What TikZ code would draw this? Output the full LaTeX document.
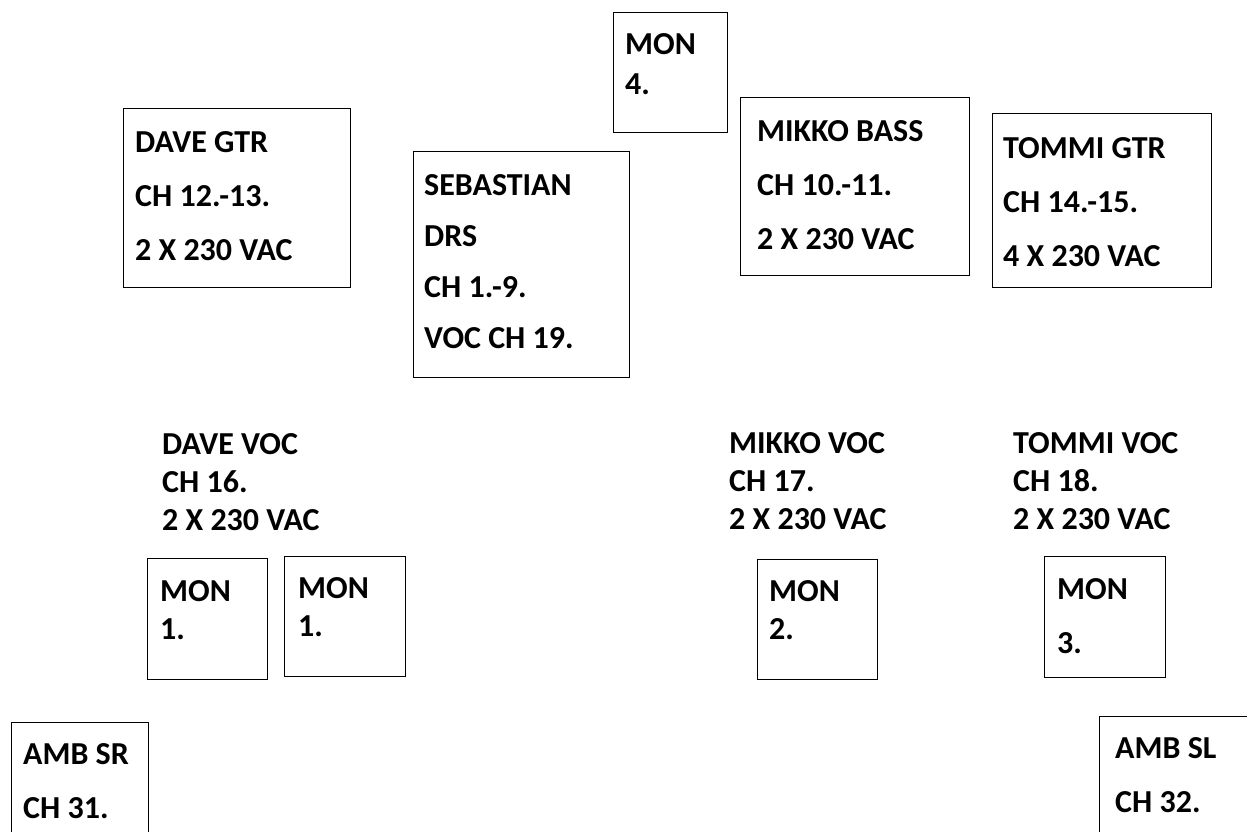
\documentclass[tikz,border=0pt]{standalone}
\usepackage{fontspec}
\setmainfont{Carlito}
\usetikzlibrary{positioning}

\begin{document}
\begin{tikzpicture}[x=1pt,y=-1pt]
\tikzstyle{every node}+=[inner sep=0pt]
\tikzstyle{box}=[draw, line width=1.3pt, anchor=north west]
\tikzstyle{txt}=[anchor=north west, align=left, font=\fontsize{32}{54}\selectfont\bfseries]
\tikzstyle{mon}=[txt, font=\fontsize{32}{38}\selectfont\bfseries]
\clip (0,0) rectangle (1247,832);
\fill [white] (0,0) rectangle (1247,832);
\node [box, minimum width=227pt, minimum height=179pt] (davegtr) at (123,108) {};
\node [txt, below right=23pt and 12pt of davegtr.north west] (davegtrtxt) {DAVE GTR\\CH 12.-13.\\2 X 230 VAC};
\node [box, minimum width=216pt, minimum height=226pt] (sebastian) at (413,151) {};
\node [txt, font=\fontsize{32}{51}\selectfont\bfseries, below right=23pt and 11pt of sebastian.north west] (sebastiantxt) {SEBASTIAN\\DRS\\CH 1.-9.\\VOC CH 19.};
\node [box, minimum width=114pt, minimum height=120pt] (mon4) at (613,12) {};
\node [mon, font=\fontsize{32}{40}\selectfont\bfseries, below right=21pt and 12pt of mon4.north west] (mon4txt) {MON\\4.};
\node [box, minimum width=229pt, minimum height=178pt] (mikkobass) at (740,97) {};
\node [txt, below right=23pt and 17pt of mikkobass.north west] (mikkobasstxt) {MIKKO BASS\\CH 10.-11.\\2 X 230 VAC};
\node [box, minimum width=219pt, minimum height=174pt] (tommigtr) at (992,113) {};
\node [txt, below right=24pt and 11pt of tommigtr.north west] (tommigtrtxt) {TOMMI GTR\\CH 14.-15.\\4 X 230 VAC};
\node [mon] (davevoc) at (162,433) {DAVE VOC\\CH 16.\\2 X 230 VAC};
\node [mon] (mikkovoc) at (729,432) {MIKKO VOC\\CH 17.\\2 X 230 VAC};
\node [mon] (tommivoc) at (1013,432) {TOMMI VOC\\CH 18.\\2 X 230 VAC};
\node [box, minimum width=120pt, minimum height=121pt] (mon1a) at (147,558) {};
\node [mon, below right=22pt and 13pt of mon1a.north west] (mon1atxt) {MON\\1.};
\node [box, minimum width=121pt, minimum height=120pt] (mon1b) at (284,556) {};
\node [mon, below right=21pt and 14pt of mon1b.north west] (mon1btxt) {MON\\1.};
\node [box, minimum width=120pt, minimum height=120pt] (mon2) at (757,559) {};
\node [mon, below right=21pt and 12pt of mon2.north west] (mon2txt) {MON\\2.};
\node [box, minimum width=121pt, minimum height=121pt] (mon3) at (1044,556) {};
\node [txt, below right=22pt and 13pt of mon3.north west] (mon3txt) {MON\\3.};
\node [box, minimum width=137pt, minimum height=160pt] (ambsr) at (11,722) {};
\node [txt, below right=21pt and 12pt of ambsr.north west] (ambsrtxt) {AMB SR\\CH 31.};
\node [box, minimum width=200pt, minimum height=160pt] (ambsl) at (1099,716) {};
\node [txt, below right=21pt and 16pt of ambsl.north west] (ambsltxt) {AMB SL\\CH 32.};
\end{tikzpicture}
\end{document}
